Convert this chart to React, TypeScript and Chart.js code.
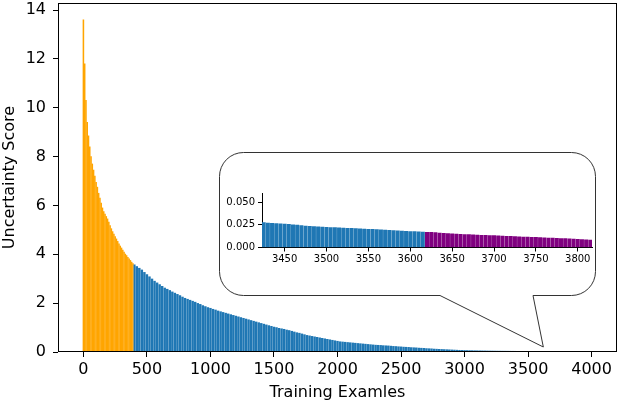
import React, { useEffect, useRef } from 'react';
import { Chart, registerables } from 'chart.js';

Chart.register(...registerables);

// ---------- Data (sorted uncertainty scores per training example) ----------
// Main chart: high-uncertainty examples (orange), sampled every 10 examples from 0
const ORANGE_START = 0;
const ORANGE_STEP = 10;
const orangeScores = [
  13.6, 11.8, 10.3, 9.4, 8.85, 8.4, 8.0, 7.7, 7.45, 7.2,
  6.95, 6.75, 6.5, 6.3, 6.1, 5.9, 5.75, 5.65, 5.55, 5.45,
  5.32, 5.18, 5.05, 4.93, 4.83, 4.73, 4.63, 4.53, 4.43, 4.34,
  4.26, 4.17, 4.09, 4.01, 3.95, 3.88, 3.81, 3.75, 3.68, 3.62,
];

// Main chart: remaining examples (blue), sampled every 20 examples from 400 to 3600
const BLUE_START = 400;
const BLUE_STEP = 20;
const blueScores = [
  3.57, 3.50, 3.43, 3.36, 3.26, 3.17, 3.08, 2.99, 2.90, 2.83,
  2.76, 2.69, 2.62, 2.57, 2.52, 2.46, 2.41, 2.36, 2.31, 2.25,
  2.20, 2.16, 2.12, 2.08, 2.04, 1.99, 1.95, 1.90, 1.86, 1.82,
  1.79, 1.75, 1.72, 1.68, 1.65, 1.62, 1.59, 1.56, 1.53, 1.50,
  1.47, 1.44, 1.41, 1.38, 1.35, 1.32, 1.29, 1.26, 1.23, 1.20,
  1.17, 1.14, 1.11, 1.08, 1.05, 1.02, 1.00, 0.97, 0.95, 0.93,
  0.90, 0.88, 0.85, 0.82, 0.79, 0.77, 0.74, 0.71, 0.68, 0.66,
  0.64, 0.62, 0.60, 0.58, 0.56, 0.54, 0.52, 0.50, 0.48, 0.46,
  0.44, 0.42, 0.41, 0.40, 0.39, 0.38, 0.37, 0.36, 0.35, 0.34,
  0.33, 0.32, 0.31, 0.30, 0.29, 0.28, 0.275, 0.27, 0.26, 0.255,
  0.25, 0.24, 0.23, 0.225, 0.215, 0.21, 0.20, 0.195, 0.19, 0.18,
  0.175, 0.17, 0.16, 0.155, 0.15, 0.14, 0.135, 0.13, 0.12, 0.115,
  0.11, 0.105, 0.10, 0.095, 0.09, 0.085, 0.08, 0.075, 0.07, 0.067,
  0.063, 0.06, 0.057, 0.055, 0.052, 0.05, 0.048, 0.046, 0.044, 0.042,
  0.040, 0.039, 0.037, 0.036, 0.035, 0.034, 0.033, 0.032, 0.031, 0.030,
  0.029, 0.027, 0.026, 0.025, 0.023, 0.022, 0.021, 0.020, 0.0195, 0.0186,
  0.0176,
];

// Main chart: lowest-uncertainty examples (purple), every 20 examples from 3620
const PURPLE_START = 3620;
const PURPLE_STEP = 20;
const purpleScores = [
  0.0168, 0.0157, 0.0145, 0.0137, 0.0130, 0.0122, 0.0114, 0.0107, 0.0099, 0.0091,
  0.0085, 0.0080, 0.0075, 0.0070, 0.0066, 0.0062, 0.0058, 0.0054, 0.0050,
];

// Inset (zoom): every 5 examples from 3425
const ZOOM_BLUE_START = 3425;
const ZOOM_STEP = 5;
const zoomBlueScores = [
  0.0273, 0.0270, 0.0267, 0.0264, 0.0261, 0.0258, 0.0254, 0.0250, 0.0246, 0.0241,
  0.0237, 0.0234, 0.0231, 0.0228, 0.0225, 0.0222, 0.0220, 0.0218, 0.0216, 0.0214,
  0.0212, 0.0210, 0.0208, 0.0206, 0.0204, 0.0201, 0.0199, 0.0197, 0.0195, 0.0192,
  0.0189, 0.0186, 0.0184, 0.0181, 0.0179, 0.0176, 0.0174, 0.0172, 0.0170,
];
const ZOOM_PURPLE_START = 3620;
const zoomPurpleScores = [
  0.0168, 0.0166, 0.0163, 0.0160, 0.0157, 0.0153, 0.0150, 0.0148, 0.0145, 0.0143,
  0.0141, 0.0139, 0.0137, 0.0135, 0.0133, 0.0132, 0.0130, 0.0128, 0.0126, 0.0124,
  0.0122, 0.0120, 0.0118, 0.0116, 0.0114, 0.0113, 0.0111, 0.0109, 0.0107, 0.0105,
  0.0103, 0.0101, 0.0099, 0.0097, 0.0095, 0.0093, 0.0091, 0.0088, 0.0085, 0.0082,
];

const mainXTicks = [0, 500, 1000, 1500, 2000, 2500, 3000, 3500, 4000];
const mainYTicks = [0, 2, 4, 6, 8, 10, 12, 14];
const zoomXTicks = [3450, 3500, 3550, 3600, 3650, 3700, 3750, 3800];
const zoomYTicks = [0, 0.025, 0.05];

const X_LABEL = 'Training Examles';
const Y_LABEL = 'Uncertainty Score';

// ---------- helpers ----------
type Seg = { start: number; step: number; values: number[]; color: string };
const buildSeries = (segs: Seg[]) => {
  const pts: { x: number; y: number }[] = [];
  const colors: string[] = [];
  segs.forEach((s) => {
    s.values.forEach((v, i) => {
      pts.push({ x: s.start + i * s.step, y: v });
      colors.push(s.color);
    });
  });
  return { pts, colors };
};

const FONT = 'DejaVu Sans';
const MAIN_FONT_SIZE = 16;
const ZOOM_FONT_SIZE = 10;
const ORANGE = '#FFA500';
const BLUE = '#1f77b4';
const PURPLE = '#800080';

const framePlugin = {
  id: 'frame',
  afterDraw(chart: any) {
    const { ctx, chartArea } = chart;
    const l = Math.round(chartArea.left) + 0.5;
    const t = Math.round(chartArea.top) + 0.5;
    const r = Math.round(chartArea.right) - 0.5;
    const b = Math.round(chartArea.bottom) - 0.5;
    ctx.save();
    ctx.strokeStyle = '#000';
    ctx.lineWidth = 1;
    ctx.strokeRect(l, t, r - l, b - t);
    ctx.restore();
  },
};

const bubblePlugin = {
  id: 'bubble',
  afterDatasetsDraw(chart: any) {
    const { ctx } = chart;
    const xs = chart.scales.x;
    const ys = chart.scales.y;
    const L = 219.5, T = 152.5, R = 595.5, B = 295.5, rad = 24;
    const p1 = 440, p2 = 533;
    const tipX = xs.getPixelForValue(ZOOM_PURPLE_START);
    const tipY = ys.getPixelForValue(0) - 5;
    ctx.save();
    ctx.beginPath();
    ctx.moveTo(L + rad, T);
    ctx.lineTo(R - rad, T);
    ctx.arcTo(R, T, R, T + rad, rad);
    ctx.lineTo(R, B - rad);
    ctx.arcTo(R, B, R - rad, B, rad);
    ctx.lineTo(p2, B);
    ctx.lineTo(tipX, tipY);
    ctx.lineTo(p1, B);
    ctx.lineTo(L + rad, B);
    ctx.arcTo(L, B, L, B - rad, rad);
    ctx.lineTo(L, T + rad);
    ctx.arcTo(L, T, L + rad, T, rad);
    ctx.closePath();
    ctx.fillStyle = '#fff';
    ctx.fill();
    ctx.strokeStyle = '#333';
    ctx.lineWidth = 1;
    ctx.stroke();
    ctx.restore();
  },
};

const tickGrid = (len: number) => ({
  display: true,
  offset: false,
  drawOnChartArea: false,
  drawTicks: true,
  tickLength: len,
  tickColor: '#000',
  color: '#000',
});

export default function App() {
  const mainRef = useRef<HTMLCanvasElement>(null);
  const zoomRef = useRef<HTMLCanvasElement>(null);

  useEffect(() => {
    Chart.defaults.font.family = FONT;
    Chart.defaults.color = '#000';

    const mainSeries = buildSeries([
      { start: ORANGE_START, step: ORANGE_STEP, values: orangeScores, color: ORANGE },
      { start: BLUE_START, step: BLUE_STEP, values: blueScores, color: BLUE },
      { start: PURPLE_START, step: PURPLE_STEP, values: purpleScores, color: PURPLE },
    ]);
    const zoomSeries = buildSeries([
      { start: ZOOM_BLUE_START, step: ZOOM_STEP, values: zoomBlueScores, color: BLUE },
      { start: ZOOM_PURPLE_START, step: ZOOM_STEP, values: zoomPurpleScores, color: PURPLE },
    ]);

    const main = new Chart(mainRef.current as HTMLCanvasElement, {
      type: 'bar',
      data: {
        datasets: [
          {
            data: mainSeries.pts,
            backgroundColor: mainSeries.colors,
            borderWidth: 0,
            barPercentage: 0.7,
            categoryPercentage: 1,
            barThickness: 'flex',
          },
        ] as any,
      },
      options: {
        responsive: false,
        animation: false,
        devicePixelRatio: 1,
        layout: { padding: { top: 3, right: 8, left: 0, bottom: 0 } },
        plugins: { legend: { display: false }, tooltip: { enabled: false } },
        scales: {
          x: {
            type: 'linear',
            min: -200,
            max: 4200,
            offset: false,
            afterBuildTicks: (s: any) => {
              s.ticks = mainXTicks.map((v) => ({ value: v }));
            },
            afterFit: (s: any) => {
              s.height = 53;
              s.paddingLeft = 0;
              s.paddingRight = 0;
            },
            grid: tickGrid(5),
            border: { display: false },
            ticks: {
              color: '#000',
              font: { family: FONT, size: MAIN_FONT_SIZE },
              padding: 3,
              maxRotation: 0,
              autoSkip: false,
              callback: (v: any) => String(v),
            },
            title: {
              display: true,
              text: X_LABEL,
              color: '#000',
              font: { family: FONT, size: MAIN_FONT_SIZE },
              padding: { top: 0, bottom: 3 },
            },
          },
          y: {
            type: 'linear',
            min: 0,
            max: 14.29,
            afterBuildTicks: (s: any) => {
              s.ticks = mainYTicks.map((v) => ({ value: v }));
            },
            afterFit: (s: any) => {
              s.width = 58;
              s.paddingTop = 0;
              s.paddingBottom = 0;
            },
            grid: tickGrid(5),
            border: { display: false },
            ticks: {
              color: '#000',
              font: { family: FONT, size: MAIN_FONT_SIZE },
              padding: 7,
              autoSkip: false,
              callback: (v: any) => String(v),
            },
            title: {
              display: true,
              text: Y_LABEL,
              color: '#000',
              font: { family: FONT, size: MAIN_FONT_SIZE },
              padding: { top: 0, bottom: 0 },
            },
          },
        },
      } as any,
      plugins: [framePlugin, bubblePlugin],
    });

    const zoom = new Chart(zoomRef.current as HTMLCanvasElement, {
      type: 'bar',
      data: {
        datasets: [
          {
            data: zoomSeries.pts,
            backgroundColor: zoomSeries.colors,
            borderWidth: 0,
            barPercentage: 0.8,
            categoryPercentage: 1,
            barThickness: 'flex',
          },
        ] as any,
      },
      options: {
        responsive: false,
        animation: false,
        devicePixelRatio: 1,
        layout: { padding: { top: 8, right: 8, left: 0, bottom: 0 } },
        plugins: { legend: { display: false }, tooltip: { enabled: false } },
        scales: {
          x: {
            type: 'linear',
            min: 3423,
            max: 3817,
            offset: false,
            afterBuildTicks: (s: any) => {
              s.ticks = zoomXTicks.map((v) => ({ value: v }));
            },
            afterFit: (s: any) => {
              s.height = 27.5;
              s.paddingLeft = 0;
              s.paddingRight = 0;
            },
            grid: tickGrid(4),
            border: { display: true, color: '#000', width: 1 },
            ticks: {
              color: '#000',
              font: { family: FONT, size: ZOOM_FONT_SIZE },
              padding: 2,
              maxRotation: 0,
              autoSkip: false,
              callback: (v: any) => String(v),
            },
          },
          y: {
            type: 'linear',
            min: 0,
            max: 0.06,
            afterBuildTicks: (s: any) => {
              s.ticks = zoomYTicks.map((v) => ({ value: v }));
            },
            afterFit: (s: any) => {
              s.width = 62;
              s.paddingTop = 0;
              s.paddingBottom = 0;
            },
            grid: tickGrid(4),
            border: { display: true, color: '#000', width: 1 },
            ticks: {
              color: '#000',
              font: { family: FONT, size: ZOOM_FONT_SIZE },
              padding: 3,
              autoSkip: false,
              callback: (v: any) => Number(v).toFixed(3),
            },
          },
        },
      } as any,
    });

    return () => {
      main.destroy();
      zoom.destroy();
    };
  }, []);

  return (
    <div
      style={{
        position: 'fixed',
        left: 0,
        top: 0,
        width: 625,
        height: 405,
        background: '#fff',
        overflow: 'hidden',
      }}
    >
      <canvas
        ref={mainRef}
        width={625}
        height={405}
        style={{ position: 'absolute', left: 0, top: 0, width: 625, height: 405 }}
      />
      <canvas
        ref={zoomRef}
        width={400}
        height={90}
        style={{ position: 'absolute', left: 200, top: 185, width: 400, height: 90 }}
      />
    </div>
  );
}
